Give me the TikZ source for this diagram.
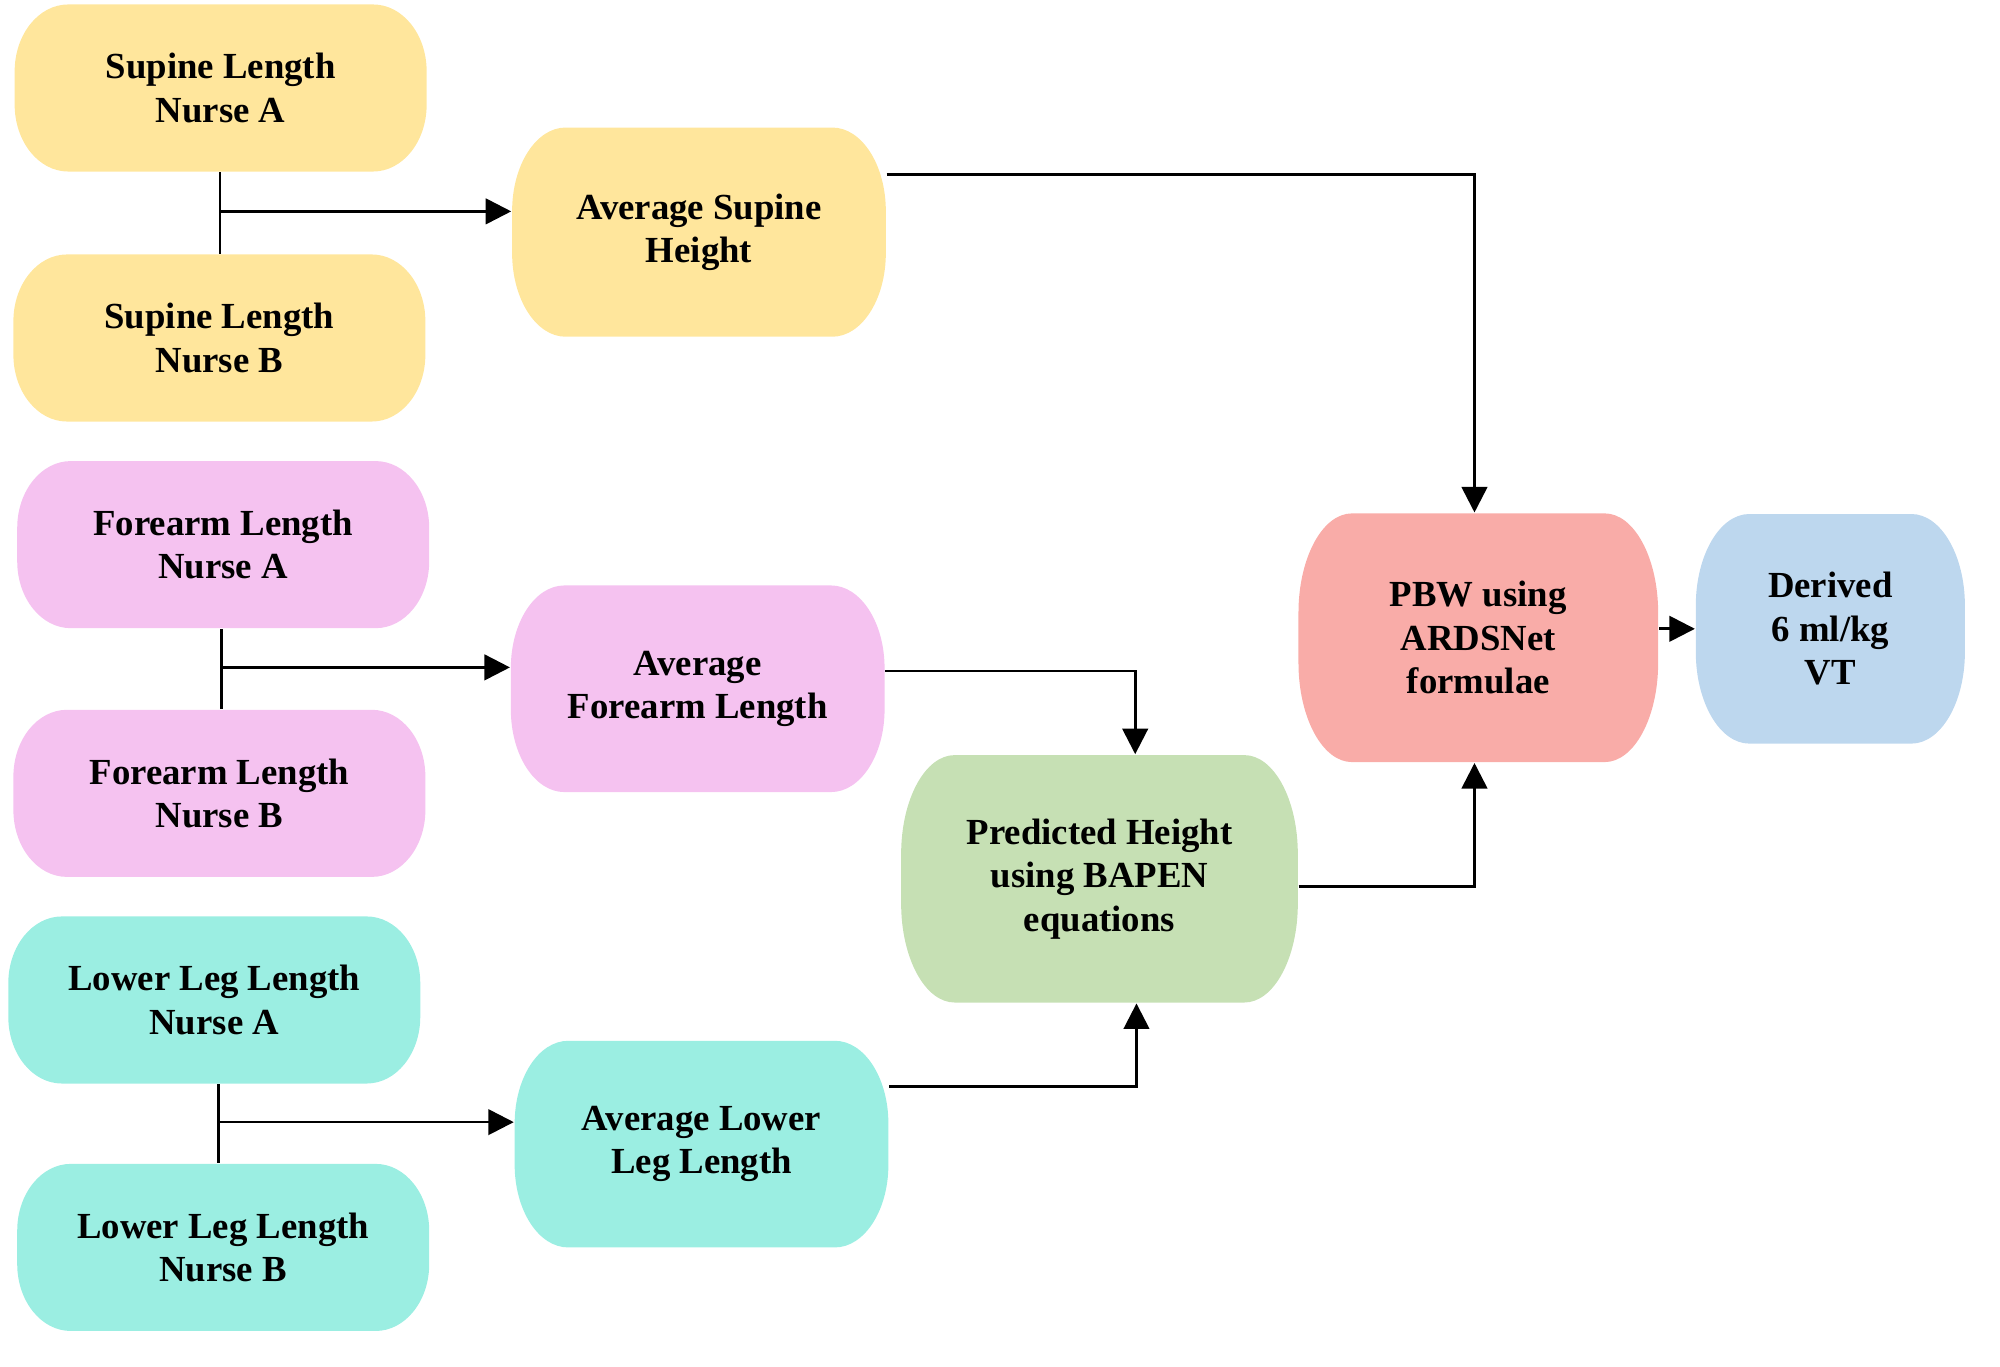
\documentclass[tikz,border=0pt]{standalone}
\usepackage{fontspec}
\setmainfont{Liberation Serif}
\usetikzlibrary{arrows.meta,positioning,calc}
\definecolor{supine}{RGB}{255,230,156}
\definecolor{forearm}{RGB}{245,194,240}
\definecolor{lowerleg}{RGB}{155,238,226}
\definecolor{bapen}{RGB}{198,224,180}
\definecolor{pbwred}{RGB}{249,172,168}
\definecolor{vtblue}{RGB}{189,215,238}

\begin{document}
\begin{tikzpicture}[
  x=0.1mm, y=-0.1mm,
  every node/.style={font=\fontsize{8.2}{9.7}\selectfont\bfseries},
  pill/.style={align=center, inner sep=0pt,
    path picture={
      \fill[#1] let \p1=(path picture bounding box.south west),
                    \p2=(path picture bounding box.north east),
                    \n1={0.4*(\y2-\y1)} in
        (\x1+4.2mm,\y2) -- (\x2-4.2mm,\y2)
        arc[start angle=90, end angle=0, x radius=4.2mm, y radius=\n1]
        -- (\x2,\y1+\n1)
        arc[start angle=0, end angle=-90, x radius=4.2mm, y radius=\n1]
        -- (\x1+4.2mm,\y1)
        arc[start angle=-90, end angle=-180, x radius=4.2mm, y radius=\n1]
        -- (\x1,\y2-\n1)
        arc[start angle=180, end angle=90, x radius=4.2mm, y radius=\n1]
        -- cycle;
    }},
  nurse/.style={pill=#1, minimum width=32.3mm, minimum height=13.1mm},
  avg/.style={pill=#1, minimum width=29.3mm, minimum height=16.2mm},
  link/.style={-{Triangle[length=2mm, width=2mm]}, line width=0.6pt},
  pairline/.style={line width=0.6pt}
]
\useasboundingbox (0,0) rectangle (1568,1071);

% measurements by the two nurses
\node[nurse=supine] (supA) at (173,69) {Supine Length\\Nurse A};
\node[nurse=supine] (supB) at (172,265) {Supine Length\\Nurse B};
\node[nurse=forearm] (foreA) at (175,427) {Forearm Length\\Nurse A};
\node[nurse=forearm] (foreB) at (172,622) {Forearm Length\\Nurse B};
\node[nurse=lowerleg] (legA) at (168,784) {Lower Leg Length\\Nurse A};
\node[nurse=lowerleg] (legB) at (175,978) {Lower Leg Length\\Nurse B};

% averages
\node[avg=supine, minimum height=16.4mm] (supAvg) at (548,182) {Average Supine\\Height};
\node[avg=forearm] (foreAvg) at (547,540) {Average\\Forearm Length};
\node[avg=lowerleg] (legAvg) at (550,897) {Average Lower\\Leg Length};

% results
\node[pill=bapen, minimum width=31.1mm, minimum height=19.4mm] (pred) at (862,689) {Predicted Height\\using BAPEN\\equations};
\node[pill=pbwred, minimum width=28.2mm, minimum height=19.5mm] (pbw) at (1159,500) {PBW using\\ARDSNet\\formulae};
\node[pill=vtblue, minimum width=21.1mm, minimum height=18mm] (vt) at (1435,493) {Derived\\6 ml/kg\\VT};

% pairs joined, then averaged
\foreach \a/\b/\j/\c in {supA/supB/supJ/supAvg, foreA/foreB/foreJ/foreAvg, legA/legB/legJ/legAvg} {
  \coordinate (\j) at ($(\a.south)!0.48!(\b.north)$);
  \draw[pairline] (\j |- \a.south) -- (\j |- \b.north);
  \draw[link] (\j) -- (\j -| \c.west);
}

\draw[link] ([yshift=4.5mm]supAvg.east) -| ([xshift=-0.3mm]pbw.north);
\draw[link] ([yshift=1.4mm]foreAvg.east) -| ([xshift=2.8mm]pred.north);
\draw[link] ([yshift=4.5mm]legAvg.east) -| ([xshift=2.9mm]pred.south);
\draw[link] ([yshift=-0.6mm]pred.east) -| ([xshift=-0.3mm]pbw.south);
\draw[link] (pbw.east |- vt.west) -- (vt.west);
\end{tikzpicture}
\end{document}
